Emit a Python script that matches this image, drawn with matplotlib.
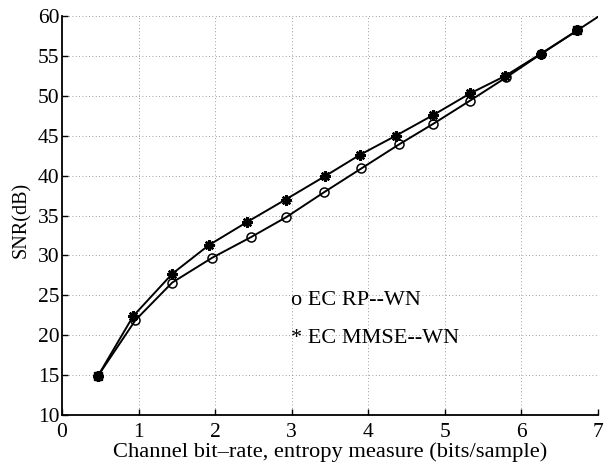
import matplotlib
matplotlib.use("Agg")
import matplotlib.pyplot as plt

plt.rcParams['font.family'] = ['Liberation Serif', 'DejaVu Serif']

# Data
rp_x = [0.47, 0.96, 1.44, 1.96, 2.47, 2.93, 3.42, 3.91, 4.40, 4.85, 5.33, 5.80, 6.25, 6.73]
rp_y = [14.9, 21.9, 26.6, 29.7, 32.3, 34.8, 37.9, 40.9, 43.9, 46.5, 49.4, 52.3, 55.2, 58.2]
mmse_x = [0.47, 0.93, 1.44, 1.92, 2.42, 2.92, 3.43, 3.89, 4.36, 4.85, 5.33, 5.79, 6.25, 6.73]
mmse_y = [14.9, 22.4, 27.7, 31.3, 34.2, 37.0, 39.9, 42.6, 45.0, 47.6, 50.3, 52.5, 55.25, 58.2]
line_end_x = [6.73, 7.0]
line_end_y = [58.2, 59.9]
xticks = [0, 1, 2, 3, 4, 5, 6, 7]
yticks = [10, 15, 20, 25, 30, 35, 40, 45, 50, 55, 60]
legend_labels = ["o EC RP--WN", "* EC MMSE--WN"]

fig = plt.figure(figsize=(6.1, 4.67), dpi=100)
ax = fig.add_axes([0.1016, 0.1113, 0.8787, 0.8544])

ax.plot(rp_x, rp_y, color='black', lw=1.4, marker='o', ms=6.5, mfc='none', mew=1.1)
ax.plot(mmse_x, mmse_y, color='black', lw=1.4, marker=(8, 2, 0), ms=7.5, mew=1.7)
ax.plot(line_end_x, line_end_y, color='black', lw=1.4)
ax.plot([rp_x[0]], [rp_y[0]], marker='s', color='black', ms=6)
ax.plot([rp_x[-1]], [rp_y[-1]], marker='s', color='black', ms=6)
ax.plot([rp_x[-2]], [rp_y[-2]], marker='s', color='black', ms=5)

ax.set_xlim(0, 7)
ax.set_ylim(10, 60)
ax.set_xticks(xticks)
ax.set_yticks(yticks)
ax.tick_params(labelsize=15.5, direction='in', length=4, width=1)
ax.tick_params(axis='x', pad=6)
ax.tick_params(axis='y', pad=2)
ax.grid(True, linestyle=(0, (1, 3)), color='black', lw=0.6, alpha=0.5)
ax.spines['top'].set_visible(False)
ax.spines['right'].set_visible(False)
for s in ['left', 'bottom']:
    ax.spines[s].set_linewidth(1.3)

ax.set_xlabel("Channel bit\u2013rate, entropy measure (bits/sample)", fontsize=16.2, labelpad=0)
ax.set_ylabel("SNR(dB)", fontsize=14.5)
ax.yaxis.set_label_coords(-0.058, 0.49)

ax.text(2.99, 24.4, legend_labels[0], fontsize=16, va='center', ha='left')
ax.text(2.99, 19.6, legend_labels[1], fontsize=16, va='center', ha='left')

fig.savefig("out.png", dpi=100)
